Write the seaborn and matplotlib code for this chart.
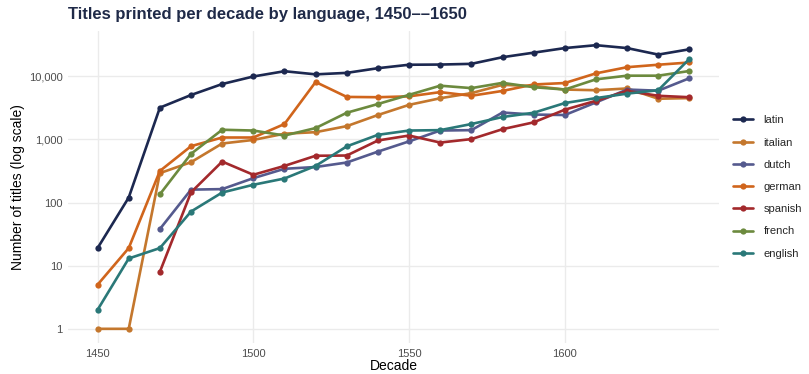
import numpy as np
import pandas as pd
import matplotlib
matplotlib.use("Agg")
import matplotlib.pyplot as plt
from matplotlib.ticker import FixedLocator, FuncFormatter
import seaborn as sns

decades = list(range(1450, 1650, 10))

latin = [19, 120, 3180, 5040, 7520, 9900, 12000, 10700, 11300, 13400,
         15200, 15300, 15700, 20000, 23600, 27900, 31000, 27900, 22000, 26700]
italian = [1, 1, 292, 435, 860, 980, 1230, 1300, 1620, 2430,
           3520, 4480, 5400, 7300, 7000, 6150, 6000, 6400, 4400, 4500]
dutch = [None, None, 38, 160, 163, 243, 342, 365, 430, 640,
         930, 1380, 1400, 2660, 2470, 2430, 3850, 6150, 5900, 9300]
german = [5, 19, 316, 780, 1070, 1070, 1750, 8100, 4700, 4650,
          4800, 5600, 4900, 5850, 7400, 7800, 11100, 13900, 15200, 16500]
spanish = [None, None, 8, 145, 445, 275, 380, 550, 555, 960,
           1150, 890, 1010, 1450, 1860, 2950, 4080, 5850, 4900, 4650]
french = [None, None, 135, 590, 1420, 1380, 1150, 1510, 2640, 3630,
          5070, 7080, 6480, 7850, 6700, 6150, 8930, 10200, 10200, 12100]
english = [2, 13, 19, 72, 144, 191, 240, 380, 775, 1180,
           1380, 1400, 1750, 2260, 2640, 3760, 4500, 5300, 6000, 18800]

languages = ["latin", "italian", "dutch", "german", "spanish", "french", "english"]
series = [latin, italian, dutch, german, spanish, french, english]
colors = ["#1c2850", "#c4772d", "#555a8e", "#d0651c", "#a3292c", "#6c8a3e", "#2a7878"]

y_ticks = [1, 10, 100, 1000, 10000]
x_ticks = [1450, 1500, 1550, 1600]

rows = []
for lang, vals in zip(languages, series):
    for d, v in zip(decades, vals):
        if v is not None:
            rows.append({"decade": d, "titles": v, "language": lang})
df = pd.DataFrame(rows)

sns.set_style("white")
plt.rcParams["font.family"] = ["Liberation Sans", "DejaVu Sans"]

fig = plt.figure(figsize=(8.09, 3.74), dpi=100)
ax = fig.add_axes([68 / 809, 1 - 343 / 374, (719 - 68) / 809, (343 - 31) / 374])

sns.lineplot(
    data=df, x="decade", y="titles", hue="language",
    hue_order=languages, palette=dict(zip(languages, colors)),
    marker="o", markersize=4.5, markeredgewidth=0, linewidth=1.9,
    ax=ax, legend=True, zorder=3,
)

ax.set_yscale("log")
ax.set_xlim(1440.5, 1649.5)
ax.set_ylim(10 ** -0.2245, 10 ** 4.716)
ax.yaxis.set_major_locator(FixedLocator(y_ticks))
ax.yaxis.set_minor_locator(FixedLocator([]))
ax.yaxis.set_major_formatter(FuncFormatter(lambda v, p: f"{int(round(v)):,}"))
ax.xaxis.set_major_locator(FixedLocator(x_ticks))

ax.grid(True, color="#ebebeb", linewidth=1.0, zorder=0)
ax.set_axisbelow(True)
for s in ax.spines.values():
    s.set_visible(False)
ax.tick_params(axis="both", length=0, labelsize=8, labelcolor="#4d4d4d", pad=4)

ax.set_xlabel("Decade", fontsize=10, color="black", labelpad=0)
ax.set_ylabel("Number of titles (log scale)", fontsize=10, color="black", labelpad=3)

fig.text(68 / 809, 1 - 15 / 374, "Titles printed per decade by language, 1450\u2013\u20131650",
         fontsize=12, fontweight="bold", color="#1f2a48", ha="left", va="center")

handles, labels = ax.get_legend_handles_labels()
leg = ax.legend(handles, labels, loc="center left",
                bbox_to_anchor=(729 / 809, 1 - 187 / 374), bbox_transform=fig.transFigure,
                frameon=False, fontsize=8, handlelength=1.8, labelspacing=1.1,
                handletextpad=0.9, borderaxespad=0)

fig.savefig("out.png", dpi=100, facecolor="white")
